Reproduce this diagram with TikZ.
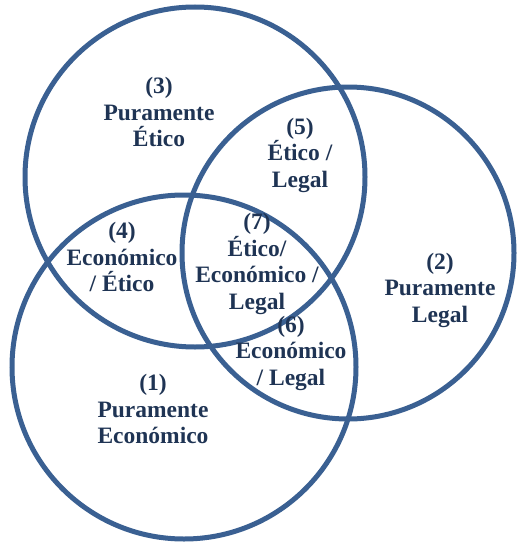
\documentclass[tikz,border=0pt]{standalone}
\usepackage{fontspec}
\setmainfont{Liberation Serif}
\definecolor{ringblue}{RGB}{58,96,146}
\definecolor{labelnavy}{RGB}{31,52,84}
\begin{document}
\begin{tikzpicture}[x=1pt,y=-1pt,
  ring/.style={draw=ringblue,line width=5pt},
  lbl/.style={text=labelnavy,align=center,inner sep=0pt,
    font=\fontsize{23.5}{26.5}\selectfont\bfseries}]
\useasboundingbox (0,0) rectangle (517,543);
% circles
\draw[ring] (195,177) circle[radius=170];
\draw[ring] (348,253) circle[radius=166];
\draw[ring] (184,367) circle[radius=172];
% labels
\node[lbl] (r3) at (159,112) {(3)\\Puramente\\Ético};
\node[lbl] (r5) at (300,155) {(5)\\Ético /\\Legal};
\node[lbl] (r4) at (122,257) {(4)\\Económico\\/ Ético};
\node[lbl] (r7) at (257,264) {(7)\\Ético/\\Económico /\\Legal};
\node[lbl] (r2) at (440,290) {(2)\\Puramente\\Legal};
\node[lbl] (r6) at (291,353) {(6)\\Económico\\/ Legal};
\node[lbl] (r1) at (153,409) {(1)\\Puramente\\Económico};
\end{tikzpicture}
\end{document}
